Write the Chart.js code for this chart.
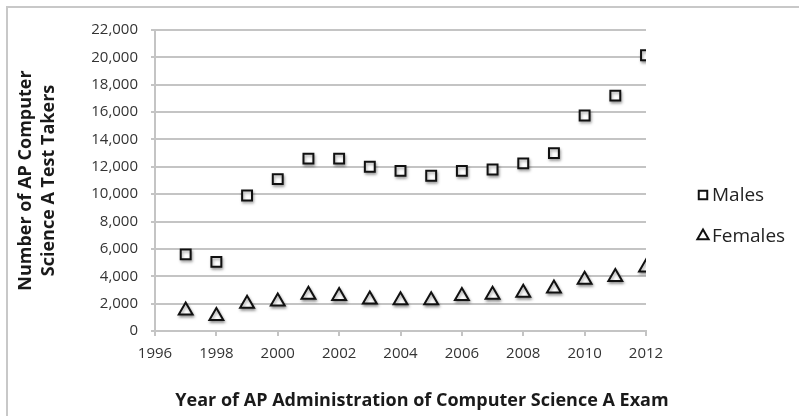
<!doctype html>
<html>
  <head>
    <title>AP Computer Science A test takers</title>
    <script src="https://cdn.jsdelivr.net/npm/chart.js@4.4.1/dist/chart.umd.min.js"></script>
    <style>
    html, body { margin: 0; padding: 0; background: #fff; overflow: hidden; }
    #wrap { width: 799px; height: 416px; }
    </style>
  </head>

  <body>
    <div id="wrap">
      <canvas id="canvas" width="799" height="416"></canvas>
    </div>

    <script>
      // data
      const years = [1997, 1998, 1999, 2000, 2001, 2002, 2003, 2004, 2005, 2006, 2007, 2008, 2009, 2010, 2011, 2012];
      const males = [5600, 5050, 9900, 11100, 12600, 12600, 12000, 11700, 11350, 11700, 11800, 12250, 13000, 15750, 17200, 20150];
      const females = [1500, 1100, 2000, 2150, 2650, 2550, 2300, 2250, 2250, 2550, 2650, 2800, 3100, 3750, 3950, 4650];
      const seriesNames = ['Males', 'Females'];
      const xTitle = 'Year of AP Administration of Computer Science A Exam';
      const yTitle = ['Number of AP Computer', 'Science A Test Takers'];

      const FONT = "'Open Sans', 'DejaVu Sans', sans-serif";
      const GRID = '#c4c4c4';

      function toPoints(vals) {
        return years.map((yr, i) => ({ x: yr, y: vals[i] }));
      }

      // frame, shadows, legend and the x title
      const decor = {
        id: 'decor',
        beforeDraw(chart) {
          const ctx = chart.ctx;
          ctx.save();
          ctx.strokeStyle = '#c8c8c8';
          ctx.lineWidth = 2;
          ctx.strokeRect(7, 7, 900, 500);
          ctx.restore();
        },
        beforeDatasetsDraw(chart) {
          const ctx = chart.ctx;
          ctx.save();
          ctx.shadowColor = 'rgba(0,0,0,0.35)';
          ctx.shadowBlur = 3;
          ctx.shadowOffsetX = 1;
          ctx.shadowOffsetY = 2;
        },
        afterDatasetsDraw(chart) {
          chart.ctx.restore();
        },
        afterDraw(chart) {
          const ctx = chart.ctx;
          ctx.save();
          // legend
          const items = [
            { style: 'rect', r: 6, y: 195 },
            { style: 'triangle', r: 6.5, y: 236 }
          ];
          items.forEach((it, i) => {
            ctx.strokeStyle = '#111';
            ctx.fillStyle = '#fff';
            ctx.lineWidth = 2;
            Chart.helpers.drawPoint(ctx, { pointStyle: it.style, radius: it.r, rotation: 0, borderWidth: 2 }, 703, it.y);
            ctx.fillStyle = '#222';
            ctx.font = '19px ' + FONT;
            ctx.textAlign = 'left';
            ctx.textBaseline = 'middle';
            ctx.fillText(seriesNames[i], 712, it.y + 1);
          });
          // x axis title
          ctx.font = 'bold 18px ' + FONT;
          ctx.fillStyle = '#1a1a1a';
          ctx.textAlign = 'center';
          ctx.textBaseline = 'middle';
          ctx.fillText(xTitle, 422, 401);
          ctx.restore();
        }
      };

      const config = {
        type: 'scatter',
        data: {
          datasets: [
            {
              label: seriesNames[0],
              data: toPoints(males),
              pointStyle: 'rect',
              pointRadius: 7,
              pointHoverRadius: 7,
              borderWidth: 2,
              borderColor: '#111',
              backgroundColor: '#fff'
            },
            {
              label: seriesNames[1],
              data: toPoints(females),
              pointStyle: 'triangle',
              pointRadius: 8,
              pointHoverRadius: 8,
              borderWidth: 2,
              borderColor: '#111',
              backgroundColor: '#fff'
            }
          ]
        },
        options: {
          responsive: false,
          animation: false,
          layout: { padding: { left: 6, top: 30, right: 153, bottom: 0 } },
          plugins: {
            legend: { display: false },
            tooltip: { enabled: false }
          },
          scales: {
            x: {
              type: 'linear',
              min: 1996,
              max: 2012,
              afterFit(scale) { scale.height = 85; },
              ticks: {
                stepSize: 2,
                padding: 9,
                color: '#333',
                font: { family: FONT, size: 15 },
                callback: (v) => String(v)
              },
              grid: {
                drawOnChartArea: false,
                drawTicks: true,
                tickLength: 5,
                color: GRID,
                lineWidth: 2
              },
              border: { color: GRID, width: 2 }
            },
            y: {
              min: 0,
              max: 22000,
              afterFit(scale) { scale.width = 149; },
              ticks: {
                stepSize: 2000,
                padding: 13,
                color: '#333',
                font: { family: FONT, size: 15 },
                callback: (v) => v.toLocaleString('en-US')
              },
              grid: {
                color: GRID,
                lineWidth: 2,
                tickLength: 4
              },
              border: { color: GRID, width: 2 },
              title: {
                display: true,
                text: yTitle,
                color: '#1a1a1a',
                padding: { top: 8, bottom: 0 },
                font: { family: FONT, size: 18, weight: 'bold', lineHeight: '23px' }
              }
            }
          }
        },
        plugins: [decor]
      };

      window.onload = function() {
        let ctx = document.getElementById('canvas').getContext('2d');
        window.myChart = new Chart(ctx, config);
      };
    </script>
  </body>
</html>
